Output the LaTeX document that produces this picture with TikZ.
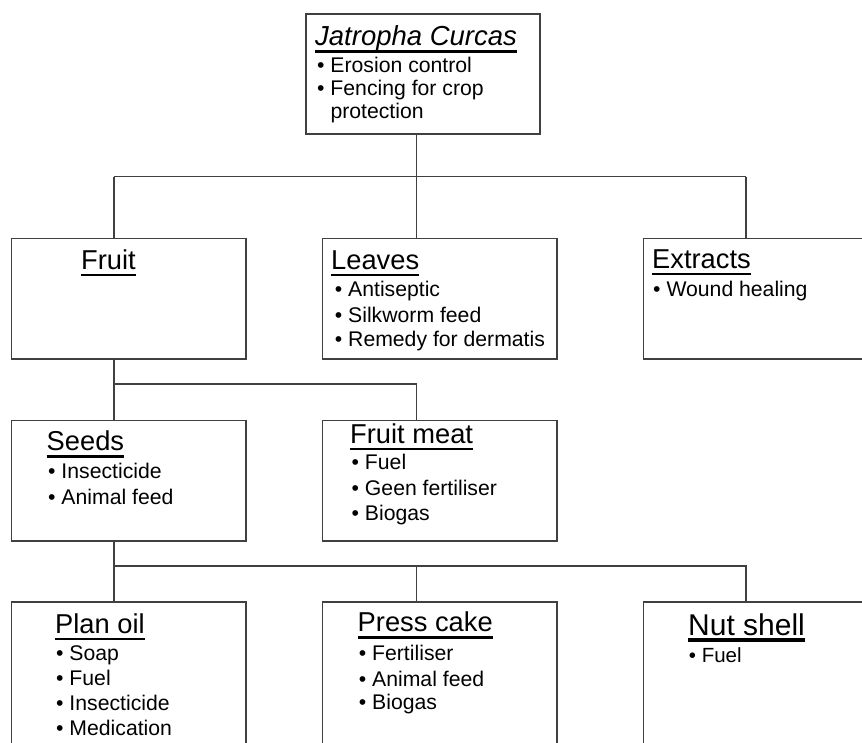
\documentclass[tikz,border=0pt]{standalone}
\usepackage{fontspec}
\setmainfont{Liberation Sans}
\newcommand\myul[1]{\setbox0\hbox{#1}\rlap{\vrule width\wd0 height -4.2pt depth 6.8pt}\box0}
\newcommand\myulthick[1]{\setbox0\hbox{#1}\rlap{\vrule width\wd0 height -2.8pt depth 6.8pt}\box0}
\tikzset{
  box/.style={draw=black!75, line width=1.5pt, fill=white, rectangle, anchor=north west, minimum width=234.3pt, inner sep=0pt},
  conn/.style={draw=black!75, line width=1.5pt},
  ttl/.style={anchor=base west, inner sep=0pt, font=\fontsize{27.3}{30}\selectfont},
  itm/.style={anchor=base west, inner sep=0pt, font=\fontsize{21.2}{24}\selectfont}
}
\begin{document}
\begin{tikzpicture}[x=1pt, y=-1pt]
\useasboundingbox (0,0) rectangle (862,742);
\clip (0,0) rectangle (862,742);
\fill[white] (0,0) rectangle (862,742);

% bus coordinates
\coordinate (bus1L) at (114,176.7);
\coordinate (bus1M) at (416.7,176.7);
\coordinate (bus1R) at (746,176.7);
\coordinate (bus2L) at (114,384);
\coordinate (bus2R) at (416.7,384);
\coordinate (bus3L) at (114,566);
\coordinate (bus3M) at (416.7,566);
\coordinate (bus3R) at (746,566);

% boxes
\node[box, minimum height=120pt] (top) at (305,13) {};
\node[box, minimum height=120.3pt] (fruit) at (10.7,237.7) {};
\node[box, minimum height=120.3pt] (leaves) at (321.7,237.7) {};
\node[box, minimum height=120.3pt] (extracts) at (642.7,237.7) {};
\node[box, minimum height=120.5pt] (seeds) at (10.7,419.5) {};
\node[box, minimum height=120.5pt] (fruitmeat) at (321.7,419.5) {};
\node[box, minimum height=180pt] (planoil) at (10.7,601) {};
\node[box, minimum height=180pt] (presscake) at (321.7,601) {};
\node[box, minimum height=180pt] (nutshell) at (642.7,601) {};

% connectors
\draw[conn] (top.south -| bus1M) -- (bus1M);
\draw[conn] (bus1L) -- (bus1R);
\draw[conn] (bus1L) -- (bus1L |- fruit.north);
\draw[conn] (bus1M) -- (bus1M |- leaves.north);
\draw[conn] (bus1R) -- (bus1R |- extracts.north);
\draw[conn] (fruit.south -| bus2L) -- (bus2L |- seeds.north);
\draw[conn] (bus2L) -- (bus2R) -- (bus2R |- fruitmeat.north);
\draw[conn] (seeds.south -| bus3L) -- (bus3L |- planoil.north);
\draw[conn] (bus3L) -- (bus3R) -- (bus3R |- nutshell.north);
\draw[conn] (bus3M) -- (bus3M |- presscake.north);

% top
\node[ttl, font=\fontsize{27.5}{30}\selectfont\itshape] (topt) at (315,45.7) {\myul{Jatropha Curcas}};
\node[itm] (top1) at (317,72.5) {• Erosion control};
\node[itm] (top2) at (317,95.5) {• Fencing for crop};
\node[itm] (top3) at (317,118) {\phantom{• }protection};

% fruit
\node[ttl] (fruitt) at (81,269.3) {\myul{Fruit}};

% leaves
\node[ttl] (leavest) at (331,269.3) {\myul{Leaves}};
\node[itm] (leaves1) at (334.7,296.7) {• Antiseptic};
\node[itm] (leaves2) at (334.7,322.3) {• Silkworm feed};
\node[itm] (leaves3) at (334.7,346.7) {• Remedy for dermatis};

% extracts
\node[ttl] (extractst) at (652,268.5) {\myul{Extracts}};
\node[itm] (extracts1) at (653,296.7) {• Wound healing};

% seeds
\node[ttl] (seedst) at (46.5,450.7) {\myul{Seeds}};
\node[itm] (seeds1) at (48,478.3) {• Insecticide};
\node[itm] (seeds2) at (48,504) {• Animal feed};

% fruit meat
\node[ttl] (fruitmeatt) at (350,443.3) {\myul{Fruit meat}};
\node[itm] (fruitmeat1) at (351.5,469.3) {• Fuel};
\node[itm] (fruitmeat2) at (351.5,495) {• Geen fertiliser};
\node[itm] (fruitmeat3) at (351.5,520) {• Biogas};

% plan oil
\node[ttl] (planoilt) at (55,633.3) {\myul{Plan oil}};
\node[itm] (planoil1) at (56,660) {• Soap};
\node[itm] (planoil2) at (56,685) {• Fuel};
\node[itm] (planoil3) at (56,710) {• Insecticide};
\node[itm] (planoil4) at (56,735) {• Medication};

% press cake
\node[ttl] (presscaket) at (357.5,631.7) {\myul{Press cake}};
\node[itm] (presscake1) at (358.7,660) {• Fertiliser};
\node[itm] (presscake2) at (358.7,686) {• Animal feed};
\node[itm] (presscake3) at (358.7,709.3) {• Biogas};

% nut shell
\node[ttl, font=\fontsize{30}{33}\selectfont] (nutshellt) at (688,635) {\myulthick{Nut shell}};
\node[itm, font=\fontsize{20.5}{23}\selectfont] (nutshell1) at (688.7,662.7) {• Fuel};
\end{tikzpicture}
\end{document}
